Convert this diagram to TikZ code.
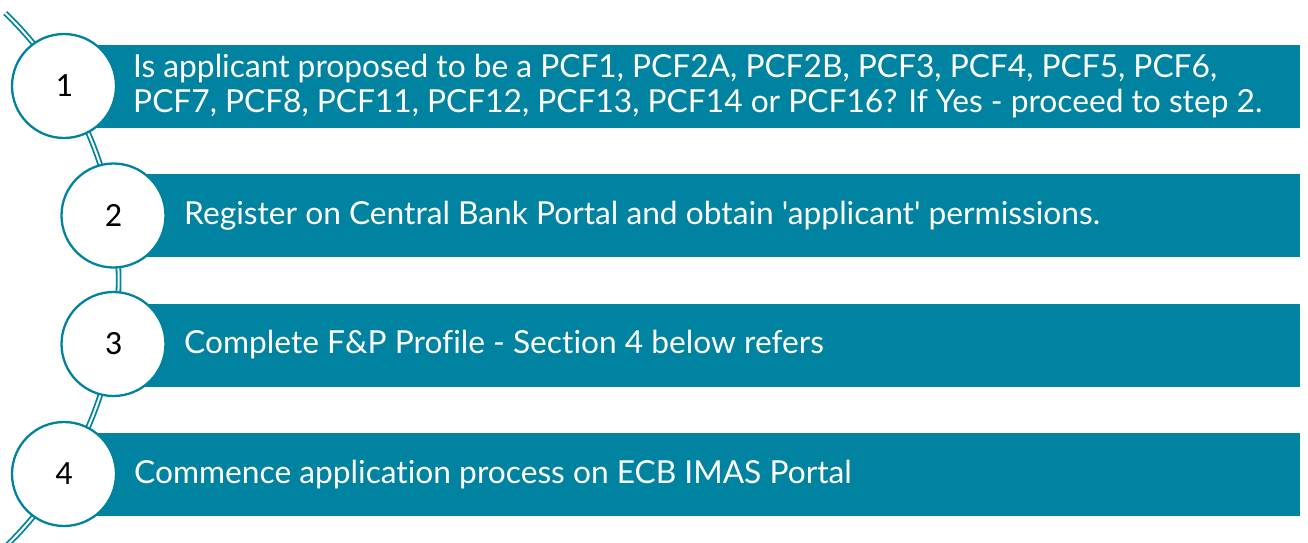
\documentclass[tikz,border=0pt]{standalone}
\usepackage{fontspec}
\setmainfont[Ligatures={NoCommon,TeXOff}]{Lato}
\newfontfamily\numfont{Carlito}
\definecolor{teal1}{RGB}{0,131,161}
\begin{document}
\begin{tikzpicture}[x=1pt,y=-1pt,
  bar/.style={fill=teal1, draw=none, rectangle, anchor=north west, minimum height=83pt, inner sep=0pt},
  stepcirc/.style={circle, draw=teal1, line width=2.3pt, fill=white, minimum size=104pt, inner sep=0pt, font=\numfont\fontsize{34}{36}\selectfont},
  bartext/.style={anchor=west, text=white, align=left, inner sep=0pt, font=\fontsize{31.7}{35}\selectfont},
  arcline/.style={draw=teal1, line width=1.8pt, double=white, double distance=2pt}
]
\useasboundingbox (0,0) rectangle (1308,542);
% arc
\coordinate (arccenter) at (-252.4,280);
\draw[arcline] (arccenter) ++(-46:371) arc[start angle=-46, end angle=46, radius=371];
% bars
\node[bar, minimum width=1236pt] (b1) at (64,45) {};
\node[bar, minimum width=1187pt] (b2) at (113,174) {};
\node[bar, minimum width=1187pt] (b3) at (113,304) {};
\node[bar, minimum width=1236pt] (b4) at (64,433) {};
% texts
\node[bartext] (t1) at (133,86) {Is applicant proposed to be a PCF1, PCF2A, PCF2B, PCF3, PCF4, PCF5, PCF6,\\PCF7, PCF8, PCF11, PCF12, PCF13, PCF14 or PCF16? If Yes - proceed to step 2.};
\node[bartext] (t2) at (184,215.5) {Register on Central Bank Portal and obtain 'applicant' permissions.};
\node[bartext] (t3) at (184,345) {Complete F\&P Profile - Section 4 below refers};
\node[bartext] (t4) at (134,474.5) {Commence application process on ECB IMAS Portal};
% circles
\node[stepcirc] (c1) at (64,86) {\raisebox{-2pt}{1}};
\node[stepcirc] (c2) at (113.5,215.5) {\raisebox{-2pt}{2}};
\node[stepcirc] (c3) at (113.5,344) {\raisebox{-2pt}{3}};
\node[stepcirc] (c4) at (64,474) {\raisebox{-2pt}{4}};
\end{tikzpicture}
\end{document}
